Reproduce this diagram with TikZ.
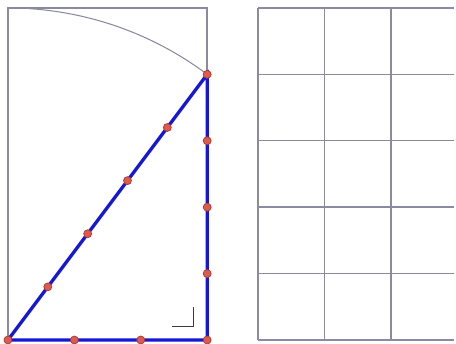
\documentclass[tikz,border=0pt]{standalone}
\usepackage{tikz}
\usetikzlibrary{calc}
\definecolor{frame}{HTML}{8A8AA0}
\definecolor{leg}{HTML}{1616D6}
\definecolor{dotred}{HTML}{DE5A4E}
\definecolor{dotrim}{HTML}{A8392F}
\definecolor{mark}{HTML}{3A3A3A}

\begin{document}
\begin{tikzpicture}[x=1cm,y=1cm,
  frm/.style={draw=frame,line width=0.6pt},
  side/.style={draw=leg,line width=1.4pt},
  rmark/.style={draw=mark,line width=0.4pt},
  pt/.style={circle,fill=dotred,draw=dotrim,line width=0.3pt,inner sep=0pt,minimum size=1.2mm}]
\useasboundingbox (-0.12,-0.06) rectangle (6.747,5.12);
\coordinate (O) at (0,0);
\coordinate (R) at (3,0);
\coordinate (T) at (3,4);
% frame and arc
\draw[frm] (O) rectangle (3,5);
\draw[frm,line width=0.45pt] (O) ++(86.5:5) arc[start angle=86.5,end angle=53.13,radius=5];
% triangle
\draw[side] (O) -- (R) -- (T) -- cycle;
\draw[rmark] ($(R)+(-0.53,0.21)$) -| ($(R)+(-0.214,0.5)$);
% points
\foreach \i in {0,...,5} \node[pt] (h\i) at ($(O)!\i/5!(T)$) {};
\foreach \i in {1,2,3} \node[pt] (b\i) at (\i,0) {};
\foreach \i in {1,2,3} \node[pt] (v\i) at (3,\i) {};
% grid
\foreach \c in {0,1,2} \draw[frm] (3.765+\c,0) -- (3.765+\c,5);
\foreach \r in {0,...,5} \draw[frm] (3.765,\r) -- (6.72,\r);
\end{tikzpicture}
\end{document}
